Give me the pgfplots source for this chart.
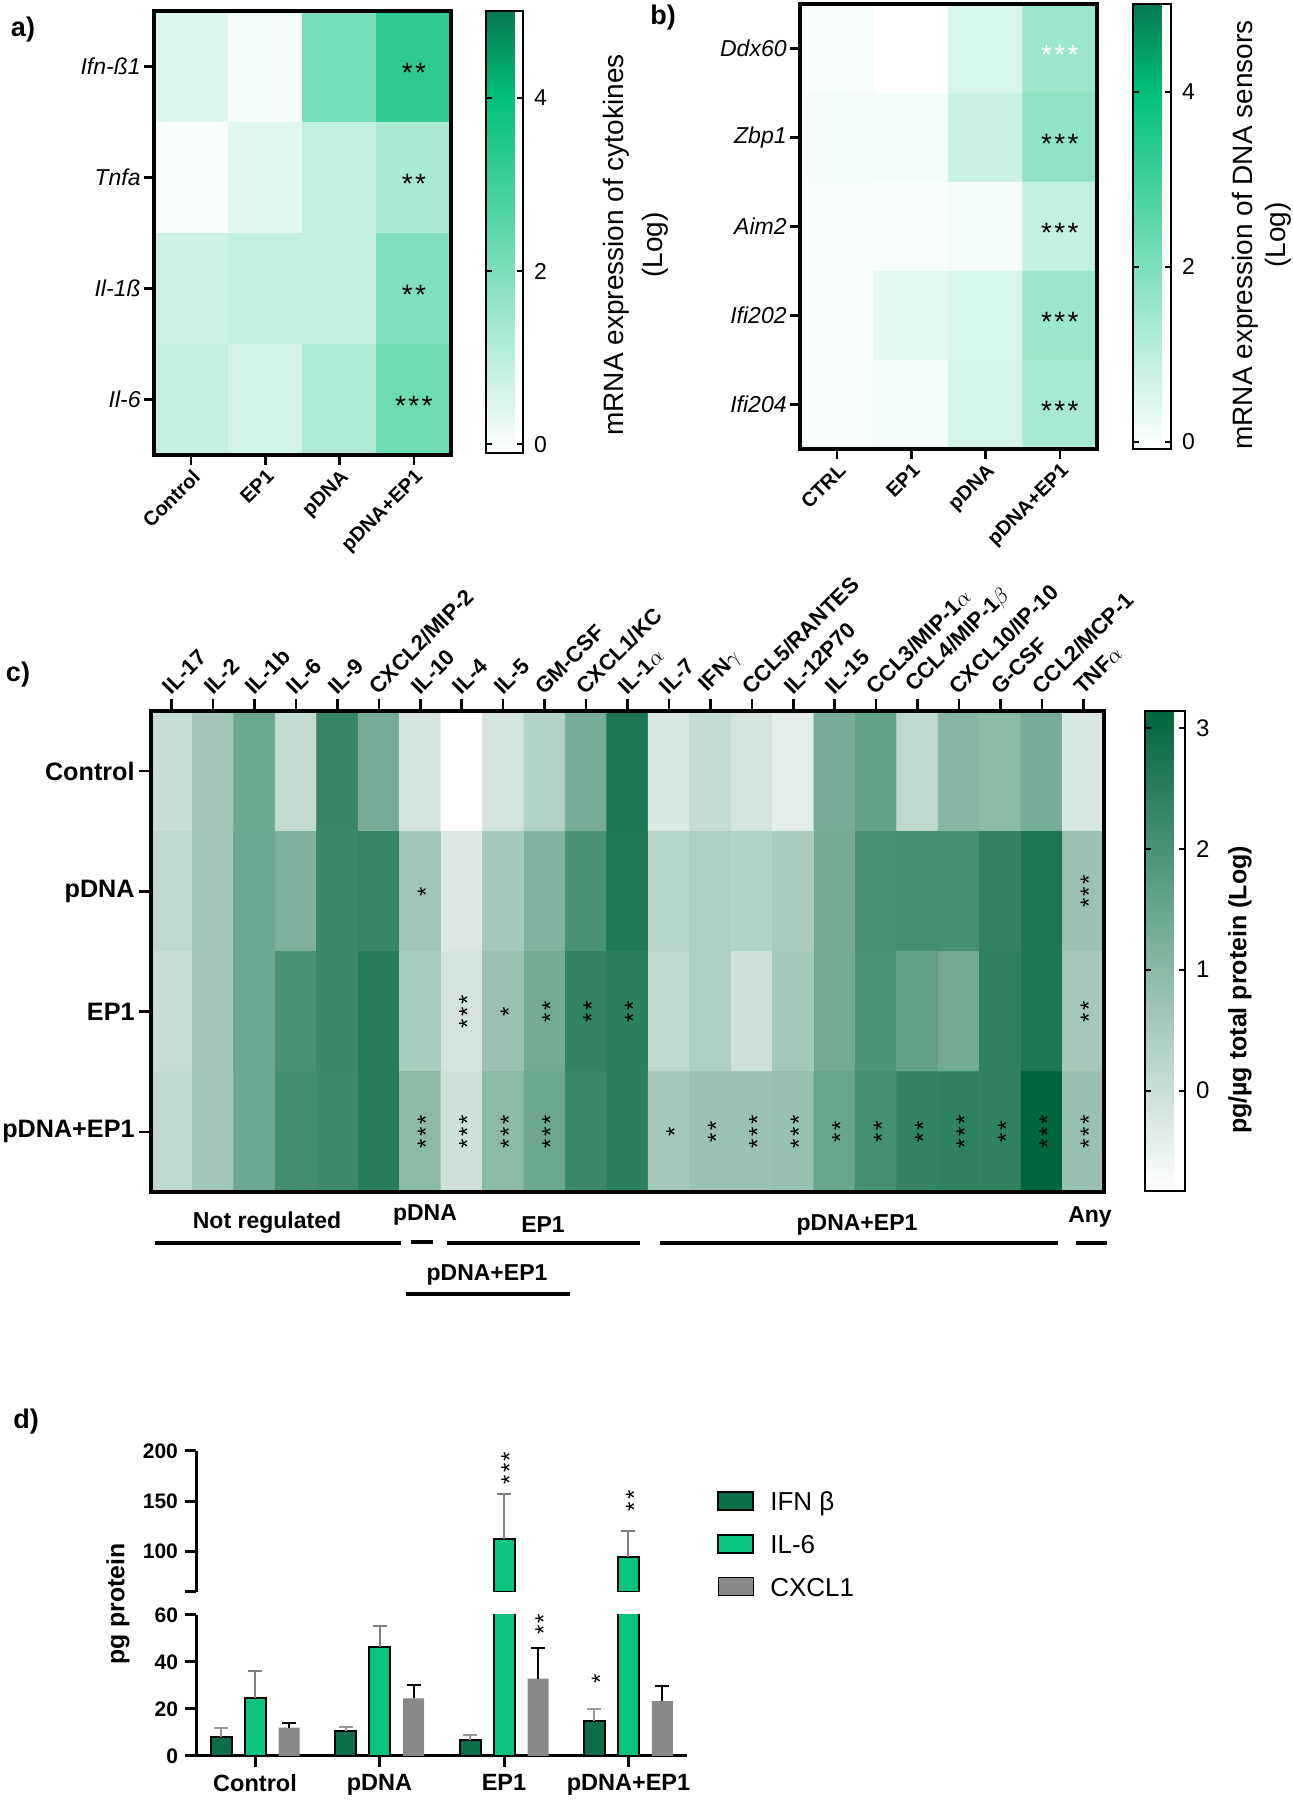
\documentclass[border=0pt]{standalone}
\usepackage{fontspec}
\setmainfont{Liberation Sans}
\usepackage{pgfplots}
\usepackage{pgfplotstable}
\pgfplotsset{compat=1.18}
\pgfplotsset{
  scale only axis,
  /pgf/number format/assume math mode=true,
  colormap={ga}{rgb255(0cm)=(255,255,255); rgb255(4.1cm)=(0,192,122); rgb255(5.1cm)=(7,120,80)},
  colormap={gc}{rgb255(0cm)=(255,255,255); rgb255(1cm)=(0,102,62)},
  hm/.style={y dir=reverse, axis on top, enlargelimits=false,
    axis line style={line width=2pt},
    tick align=outside, major tick length=5pt,
    tick style={line width=1.3pt, black}},
  boxlegend/.style={legend image code/.code={\draw[##1,/tikz/.cd] (0pt,-4.5pt) rectangle (17.5pt,4.5pt); \path[draw=none,fill=none] (0pt,0pt) -- (24pt,0pt);}},
}
\newcommand\fs[2]{\fontsize{#1}{#2}\selectfont}
\newcommand\st[1]{\raisebox{-0.58em}[0pt][0pt]{#1}}
\newcommand\sk{\kern1.2pt}
\tikzset{
  cst/.style={rotate=90, font=\fs{12}{12}, inner sep=0pt},
  dst/.style={rotate=90, font=\fs{12}{12}, inner sep=0pt},
}
\definecolor{cIFN}{RGB}{12,110,72}
\definecolor{cIL}{RGB}{10,196,126}
\definecolor{cCX}{RGB}{136,136,136}

\pgfplotstableread{
x y v
0 0 0.46
1 0 0.06
2 0 2.07
3 0 3.27
0 1 0.01
1 1 0.38
2 1 0.86
3 1 1.27
0 2 0.70
1 2 0.86
2 2 0.86
3 2 1.90
0 3 0.86
1 3 0.62
2 3 1.19
3 3 2.23
}\dataA

\pgfplotstableread{
x y v
0 0 0.06
1 0 -0.10
2 0 0.54
3 0 1.51
0 1 0.11
1 1 0.14
2 1 0.78
3 1 1.75
0 2 0.06
1 2 0.06
2 2 0.09
3 2 0.86
0 3 0.06
1 3 0.38
2 3 0.54
3 3 1.51
0 4 0.06
1 4 0.09
2 4 0.62
3 4 1.35
}\dataB

\pgfplotstableread{
x y v
0 0 0.03
1 0 0.65
2 0 1.43
3 0 0.10
4 0 2.28
5 0 1.27
6 0 -0.13
7 0 -0.83
8 0 -0.13
9 0 0.34
10 0 1.27
11 0 2.67
12 0 -0.21
13 0 0.10
14 0 -0.13
15 0 -0.36
16 0 1.27
17 0 1.58
18 0 0.18
19 0 1.04
20 0 0.96
21 0 1.27
22 0 -0.21
0 1 0.18
1 1 0.65
2 1 1.40
3 1 1.20
4 1 2.20
5 1 2.28
6 1 0.65
7 1 -0.25
8 1 0.57
9 1 1.12
10 1 1.97
11 1 2.60
12 1 0.26
13 1 0.42
14 1 0.34
15 1 0.49
16 1 1.35
17 1 1.97
18 1 2.05
19 1 2.02
20 1 2.36
21 1 2.67
22 1 0.73
0 2 0.05
1 2 0.62
2 2 1.40
3 2 1.97
4 2 2.20
5 2 2.52
6 2 0.49
7 2 -0.13
8 2 0.73
9 2 1.35
10 2 2.36
11 2 2.44
12 2 0.18
13 2 0.42
14 2 -0.05
15 2 0.57
16 2 1.35
17 2 1.89
18 2 1.58
19 2 1.35
20 2 2.39
21 2 2.67
22 2 0.57
0 3 0.15
1 3 0.62
2 3 1.40
3 3 2.08
4 3 2.17
5 3 2.52
6 3 0.96
7 3 -0.05
8 3 0.96
9 3 1.43
10 3 2.20
11 3 2.44
12 3 0.57
13 3 0.73
14 3 0.73
15 3 0.80
16 3 1.50
17 3 2.05
18 3 2.36
19 3 2.39
20 3 2.39
21 3 3.14
22 3 0.80
}\dataC

\pgfplotstableread{
g ifn ifne cx cxe
0 7.9 4.2 12.1 1.8
1 10.5 2.0 24.5 5.9
2 6.8 2.0 32.9 12.9
3 14.8 5.1 23.3 6.5
}\dataD
\pgfplotstableread{
g il ile
0 24.8 11.5
1 46.5 8.7
}\dataILlow
\pgfplotstableread{
g il ile
2 112.2 45.4
3 94.7 26.3
}\dataILhigh

\begin{document}
\begin{tikzpicture}
\useasboundingbox (0,0) rectangle (646.5pt,900pt);

% ---------------- panel a
\begin{axis}[hm,
  at={(77pt,894.5pt)}, anchor=north west, width=148.5pt, height=222pt,
  xmin=-0.5, xmax=3.5, ymin=-0.5, ymax=3.5,
  xtick={0,1,2,3}, xticklabels={Control,EP1,pDNA,pDNA+EP1},
  ytick={0,1,2,3}, yticklabels={Ifn-ß1,Tnfa,Il-1ß,Il-6},
  xtick pos=left, ytick pos=left,
  xticklabel style={rotate=45, anchor=north east, font=\bfseries\fs{10}{12}, inner sep=1pt},
  yticklabel style={font=\itshape\fs{11.5}{13}, inner sep=1.5pt},
  colormap name=ga, point meta min=-0.1, point meta max=5,
  colorbar,
  colorbar style={at={(parent axis.north east)}, anchor=north west, xshift=9pt,
    width=18.5pt, height=221pt,
    ytick={0,2,4}, ytick pos=both, yticklabel pos=right, tick align=inside,
    major tick length=3pt, tick style={line width=1pt, black},
    axis line style={line width=1.2pt},
    yticklabel style={font=\fs{11.5}{13}, xshift=2pt}},
]
\addplot[matrix plot*, mesh/cols=4, point meta=explicit] table[x=x, y=y, meta=v]{\dataA};
\node[font=\fs{14}{14}] at (axis cs:3,0) {\st{*\sk*}};
\node[font=\fs{14}{14}] at (axis cs:3,1) {\st{*\sk*}};
\node[font=\fs{14}{14}] at (axis cs:3,2) {\st{*\sk*}};
\node[font=\fs{14}{14}] at (axis cs:3,3) {\st{*\sk*\sk*}};
\end{axis}

% ---------------- panel b
\begin{axis}[hm,
  at={(400pt,898pt)}, anchor=north west, width=148.5pt, height=222.5pt,
  xmin=-0.5, xmax=3.5, ymin=-0.5, ymax=4.5,
  xtick={0,1,2,3}, xticklabels={CTRL,EP1,pDNA,pDNA+EP1},
  ytick={0,1,2,3,4}, yticklabels={Ddx60,Zbp1,Aim2,Ifi202,Ifi204},
  xtick pos=left, ytick pos=left,
  xticklabel style={rotate=45, anchor=north east, font=\bfseries\fs{10}{12}, inner sep=1pt},
  yticklabel style={font=\itshape\fs{11.5}{13}, inner sep=1.5pt},
  colormap name=ga, point meta min=-0.08, point meta max=5,
  colorbar,
  colorbar style={at={(parent axis.north east)}, anchor=north west, xshift=9.5pt,
    width=19pt, height=222.5pt,
    ytick={0,2,4}, ytick pos=both, yticklabel pos=right, tick align=inside,
    major tick length=3pt, tick style={line width=1pt, black},
    axis line style={line width=1.2pt},
    yticklabel style={font=\fs{11.5}{13}, xshift=2pt}},
]
\addplot[matrix plot*, mesh/cols=4, point meta=explicit] table[x=x, y=y, meta=v]{\dataB};
\node[font=\fs{14}{14}, white] at (axis cs:3,0) {\st{*\sk*\sk*}};
\node[font=\fs{14}{14}] at (axis cs:3,1) {\st{*\sk*\sk*}};
\node[font=\fs{14}{14}] at (axis cs:3,2) {\st{*\sk*\sk*}};
\node[font=\fs{14}{14}] at (axis cs:3,3) {\st{*\sk*\sk*}};
\node[font=\fs{14}{14}] at (axis cs:3,4) {\st{*\sk*\sk*}};
\end{axis}

% ---------------- panel c
\begin{axis}[hm,
  at={(75.5pt,544.5pt)}, anchor=north west, width=476.5pt, height=240.5pt,
  xmin=-0.5, xmax=22.5, ymin=-0.5, ymax=3.5,
  major tick length=6pt,
  xtick={0,...,22},
  xticklabels={IL-17,IL-2,IL-1b,IL-6,IL-9,CXCL2/MIP-2,IL-10,IL-4,IL-5,GM-CSF,CXCL1/KC,IL-1$\alpha$,IL-7,IFN$\gamma$,CCL5/RANTES,IL-12P70,IL-15,CCL3/MIP-1$\alpha$,CCL4/MIP-1$\beta$,CXCL10/IP-10,G-CSF,CCL2/MCP-1,TNF$\alpha$},
  ytick={0,1,2,3}, yticklabels={Control,pDNA,EP1,pDNA+EP1},
  xtick pos=right, xticklabel pos=right, ytick pos=left,
  xticklabel style={rotate=45, anchor=south west, font=\bfseries\fs{11}{13}, inner sep=1pt},
  yticklabel style={font=\bfseries\fs{12.6}{15}, inner sep=2pt},
  colormap name=gc, point meta min=-0.83, point meta max=3.14,
  colorbar,
  colorbar style={at={(parent axis.north east)}, anchor=north west, xshift=12pt,
    width=20pt, height=240pt,
    ytick={0,1,2,3}, ytick pos=both, yticklabel pos=right, tick align=inside,
    major tick length=3pt, tick style={line width=1pt, black},
    axis line style={line width=1.2pt},
    yticklabel style={font=\fs{12}{14}, xshift=2pt}},
]
\addplot[matrix plot*, mesh/cols=23, point meta=explicit] table[x=x, y=y, meta=v]{\dataC};
\node[cst] at (axis cs:6,1) {\st{*}};
\node[cst] at (axis cs:22,1) {\st{*\sk*\sk*}};
\node[cst] at (axis cs:7,2) {\st{*\sk*\sk*}};
\node[cst] at (axis cs:8,2) {\st{*}};
\node[cst] at (axis cs:9,2) {\st{*\sk*}};
\node[cst] at (axis cs:10,2) {\st{*\sk*}};
\node[cst] at (axis cs:11,2) {\st{*\sk*}};
\node[cst] at (axis cs:22,2) {\st{*\sk*}};
\node[cst] at (axis cs:6,3) {\st{*\sk*\sk*}};
\node[cst] at (axis cs:7,3) {\st{*\sk*\sk*}};
\node[cst] at (axis cs:8,3) {\st{*\sk*\sk*}};
\node[cst] at (axis cs:9,3) {\st{*\sk*\sk*}};
\node[cst] at (axis cs:12,3) {\st{*}};
\node[cst] at (axis cs:13,3) {\st{*\sk*}};
\node[cst] at (axis cs:14,3) {\st{*\sk*\sk*}};
\node[cst] at (axis cs:15,3) {\st{*\sk*\sk*}};
\node[cst] at (axis cs:16,3) {\st{*\sk*}};
\node[cst] at (axis cs:17,3) {\st{*\sk*}};
\node[cst] at (axis cs:18,3) {\st{*\sk*}};
\node[cst] at (axis cs:19,3) {\st{*\sk*\sk*}};
\node[cst] at (axis cs:20,3) {\st{*\sk*}};
\node[cst] at (axis cs:21,3) {\st{*\sk*\sk*}};
\node[cst] at (axis cs:22,3) {\st{*\sk*\sk*}};
\end{axis}

% ---------------- panel d, lower part
\begin{axis}[
  at={(98pt,92.5pt)}, anchor=north west, width=245.5pt, height=70.5pt,
  xmin=-0.474, xmax=3.47, ymin=0, ymax=60,
  axis x line*=bottom, axis y line*=left,
  axis line style={line width=1.5pt},
  xtick={0,1,2,3}, xticklabels={Control,pDNA,EP1,pDNA+EP1},
  ytick={0,20,40,60},
  tick align=outside, major tick length=5.5pt, tick style={line width=1.5pt, black},
  xticklabel style={font=\bfseries\fs{11.75}{14}},
  yticklabel style={font=\bfseries\fs{10.5}{12}},
  ybar, bar width=10.5pt,
  legend cell align=left,
  legend style={at={(1.061,1.904)}, anchor=north west, draw=none, fill=none,
    inner sep=0pt, font=\fs{13}{15}, row sep=7.8pt,
    nodes={inner sep=2pt, text height=9.5pt, text depth=0pt}},
]
\addplot[bar shift=-17pt, fill=cIFN, draw=black, line width=1pt, boxlegend,
  error bars/.cd, y dir=plus, y explicit, error mark=-,
  error bar style={line width=1pt, black!40},
  error mark options={rotate=90, line width=1pt, black!40, mark size=3.5pt}]
  table[x=g, y=ifn, y error=ifne]{\dataD};
\addlegendentry{IFN β}
\addplot[bar shift=0pt, fill=cIL, draw=black, line width=1pt, boxlegend,
  error bars/.cd, y dir=plus, y explicit, error mark=-,
  error bar style={line width=1pt, black!50},
  error mark options={rotate=90, line width=1pt, black!50, mark size=3.5pt}]
  table[x=g, y=il, y error=ile]{\dataILlow};
\addlegendentry{IL-6}
\addplot[bar shift=17pt, fill=cCX, draw=none, boxlegend,
  error bars/.cd, y dir=plus, y explicit, error mark=-,
  error bar style={line width=1pt, black},
  error mark options={rotate=90, line width=1pt, black, mark size=3.5pt}]
  table[x=g, y=cx, y error=cxe]{\dataD};
\addlegendentry{CXCL1}
\addplot[bar shift=0pt, fill=cIL, draw=black, line width=1pt, forget plot]
  table[x=g, y=il]{\dataILhigh};
\coordinate (sA) at (axis cs:2.273,56);
\coordinate (sB) at (axis cs:2.727,33);
\end{axis}

% ---------------- panel d, upper part
\begin{axis}[
  at={(98pt,174.5pt)}, anchor=north west, width=245.5pt, height=70.5pt,
  xmin=-0.474, xmax=3.47, ymin=60, ymax=200,
  axis x line=none, axis y line*=left,
  axis line style={line width=1.5pt},
  ytick={60,100,150,200}, yticklabels={,100,150,200},
  tick align=outside, major tick length=5.5pt, tick style={line width=1.5pt, black},
  yticklabel style={font=\bfseries\fs{10.5}{12}},
  ybar, bar width=10.5pt,
]
\addplot[bar shift=0pt, fill=cIL, draw=black, line width=1pt,
  error bars/.cd, y dir=plus, y explicit, error mark=-,
  error bar style={line width=1pt, black!50},
  error mark options={rotate=90, line width=1pt, black!50, mark size=3.5pt}]
  table[x=g, y=il, y error=ile]{\dataILhigh};
\coordinate (sC) at (axis cs:2,183);
\coordinate (sD) at (axis cs:3,150.4);
\end{axis}
\node[dst] at (sA) {\st{*\sk*}};
\node[dst] at (sB) {\st{*}};
\node[dst] at (sC) {\st{*\sk*\sk*}};
\node[dst] at (sD) {\st{*\sk*}};

% ---------------- texts
\node[font=\bfseries\fs{13.5}{15}] at (11.5pt,885pt) {a)};
\node[font=\bfseries\fs{13.5}{15}] at (331.5pt,891pt) {b)};
\node[font=\bfseries\fs{13.5}{15}] at (9pt,562.5pt) {c)};
\node[font=\bfseries\fs{13.5}{15}] at (13pt,189pt) {d)};

\node[rotate=90, align=center, font=\fs{14}{19.5}] at (317.75pt,777.5pt) {mRNA expression of cytokines\\(Log)};
\node[rotate=90, align=center, font=\fs{14}{16.5}] at (630.75pt,782.5pt) {mRNA expression of DNA sensors\\(Log)};
\node[rotate=90, font=\bfseries\fs{12.5}{14}] at (620pt,405pt) {pg/µg total protein (Log)};
\node[rotate=90, font=\bfseries\fs{12.4}{14}] at (59pt,98pt) {pg protein};

% group annotations under panel c
\begin{scope}[font=\bfseries\fs{11.5}{13}]
\node at (133.5pt,288.5pt) {Not regulated};
\node at (212.5pt,292.5pt) {pDNA};
\node at (271.5pt,287.5pt) {EP1};
\node at (428.5pt,287.5pt) {pDNA+EP1};
\node at (545pt,291.5pt) {Any};
\node at (243.5pt,262.5pt) {pDNA+EP1};
\end{scope}
\begin{scope}[line width=2pt]
\draw (77.5pt,278.5pt) -- (200.5pt,278.5pt);
\draw (205.5pt,279pt) -- (216.5pt,279pt);
\draw (223.5pt,278.5pt) -- (320pt,278.5pt);
\draw (330pt,278.5pt) -- (529pt,278.5pt);
\draw (538pt,278.5pt) -- (553.5pt,278.5pt);
\draw (203pt,253pt) -- (285pt,253pt);
\end{scope}
\end{tikzpicture}
\end{document}
